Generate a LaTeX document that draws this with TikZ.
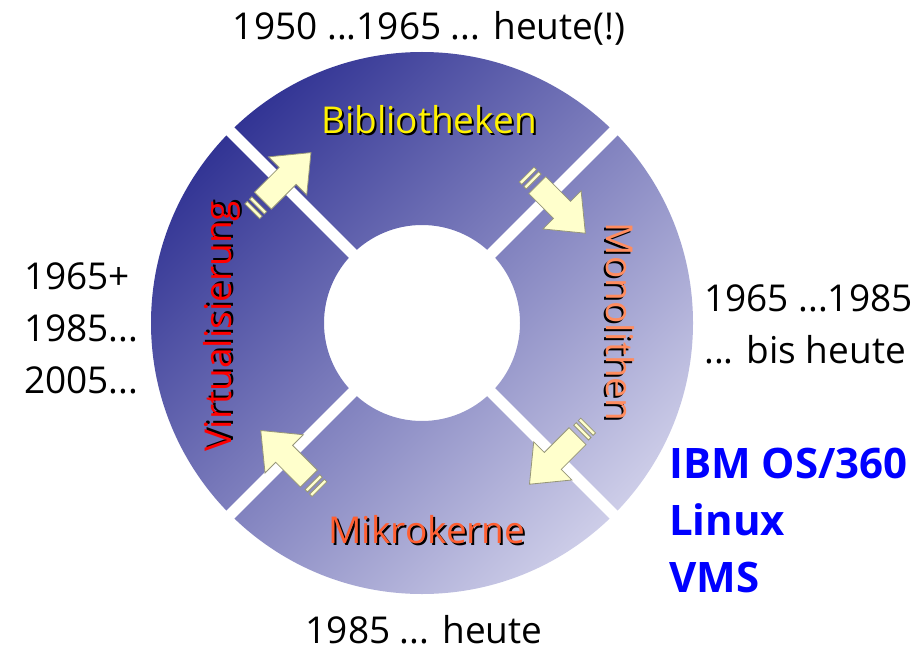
\documentclass[tikz,border=0pt]{standalone}
\usepackage{fontspec}
\setmainfont{Open Sans}
\definecolor{ringdark}{RGB}{50,52,148}
\definecolor{ringlight}{RGB}{205,205,232}
\definecolor{arrowfill}{RGB}{255,255,204}
\definecolor{arrowline}{RGB}{150,150,120}
\definecolor{mono}{RGB}{255,140,95}
\definecolor{mikro}{RGB}{255,95,50}
\begin{document}
\begin{tikzpicture}[x=1pt,y=1pt,
  lbl/.style={font=\fontsize{37}{52}\selectfont, inner sep=0pt},
  side/.style={font=\fontsize{37}{52}\selectfont, inner sep=0pt, align=left, anchor=west},
  oslist/.style={font=\fontsize{42}{57}\selectfont\bfseries, inner sep=0pt, align=left, anchor=west, text=blue},
  shadowtxt/.style={text=black},
  arrowbody/.style={fill=arrowfill, draw=arrowline, line width=0.8pt, line join=miter},
  blockarrow/.pic={
    \draw[arrowbody] (0,-12) -- (35,-12) -- (35,-27) -- (68,0) -- (35,27) -- (35,12) -- (0,12) -- cycle;
    \draw[arrowbody] (-8.5,-10.5) rectangle (-5,10.5);
    \draw[arrowbody] (-15,-10.5) rectangle (-11.5,10.5);
  }]
\useasboundingbox (0,0) rectangle (912,649);
\coordinate (c) at (422,326);
% ring
\shade[even odd rule, top color=ringdark, bottom color=ringlight, shading angle=45]
  (c) circle (271) (c) circle (98);
% gaps
\foreach \g in {45,135,225,315}
  \draw[white, line width=11pt] (c) ++(\g:90) -- ++(\g:190);
% arrows
\path (c) ++(135:199) ++(225:26) coordinate (a1);
\path (c) ++(45:179) ++(135:16) coordinate (a2);
\path (c) ++(-45:190) ++(45:30) coordinate (a3);
\path (c) ++(225:190) ++(315:30) coordinate (a4);
\pic[rotate=45] at (a1) {blockarrow};
\pic[rotate=-45] at (a2) {blockarrow};
\pic[rotate=-135] at (a3) {blockarrow};
\pic[rotate=135] at (a4) {blockarrow};
% ring labels with shadows
\node[lbl, shadowtxt] (bibS) at (431,527) {Bibliotheken};
\node[lbl, text=yellow] (bib) at (429,529) {Bibliotheken};
\node[lbl, shadowtxt, rotate=-90] (monoS) at (618,325) {Monolithen};
\node[lbl, text=mono, rotate=-90] (mono) at (620,327) {Monolithen};
\node[lbl, shadowtxt] (mikS) at (429,117) {Mikrokerne};
\node[lbl, text=mikro] (mik) at (427,119) {Mikrokerne};
\node[lbl, shadowtxt, rotate=90] (virS) at (224,325) {Virtualisierung};
\node[lbl, text=red, rotate=90] (vir) at (222,323) {Virtualisierung};
% outer texts
\node[lbl] (top) at (429,621) {1950 ...1965 ... heute(!)};
\node[lbl] (bottom) at (424,19) {1985 ... heute};
\node[side] (left) at (24,321) {1965+\\1985...\\2005...};
\node[side] (right) at (704,325) {1965 ...1985\\... bis heute};
\node[oslist] (os) at (669,129) {IBM OS/360\\Linux\\VMS};
\end{tikzpicture}
\end{document}
